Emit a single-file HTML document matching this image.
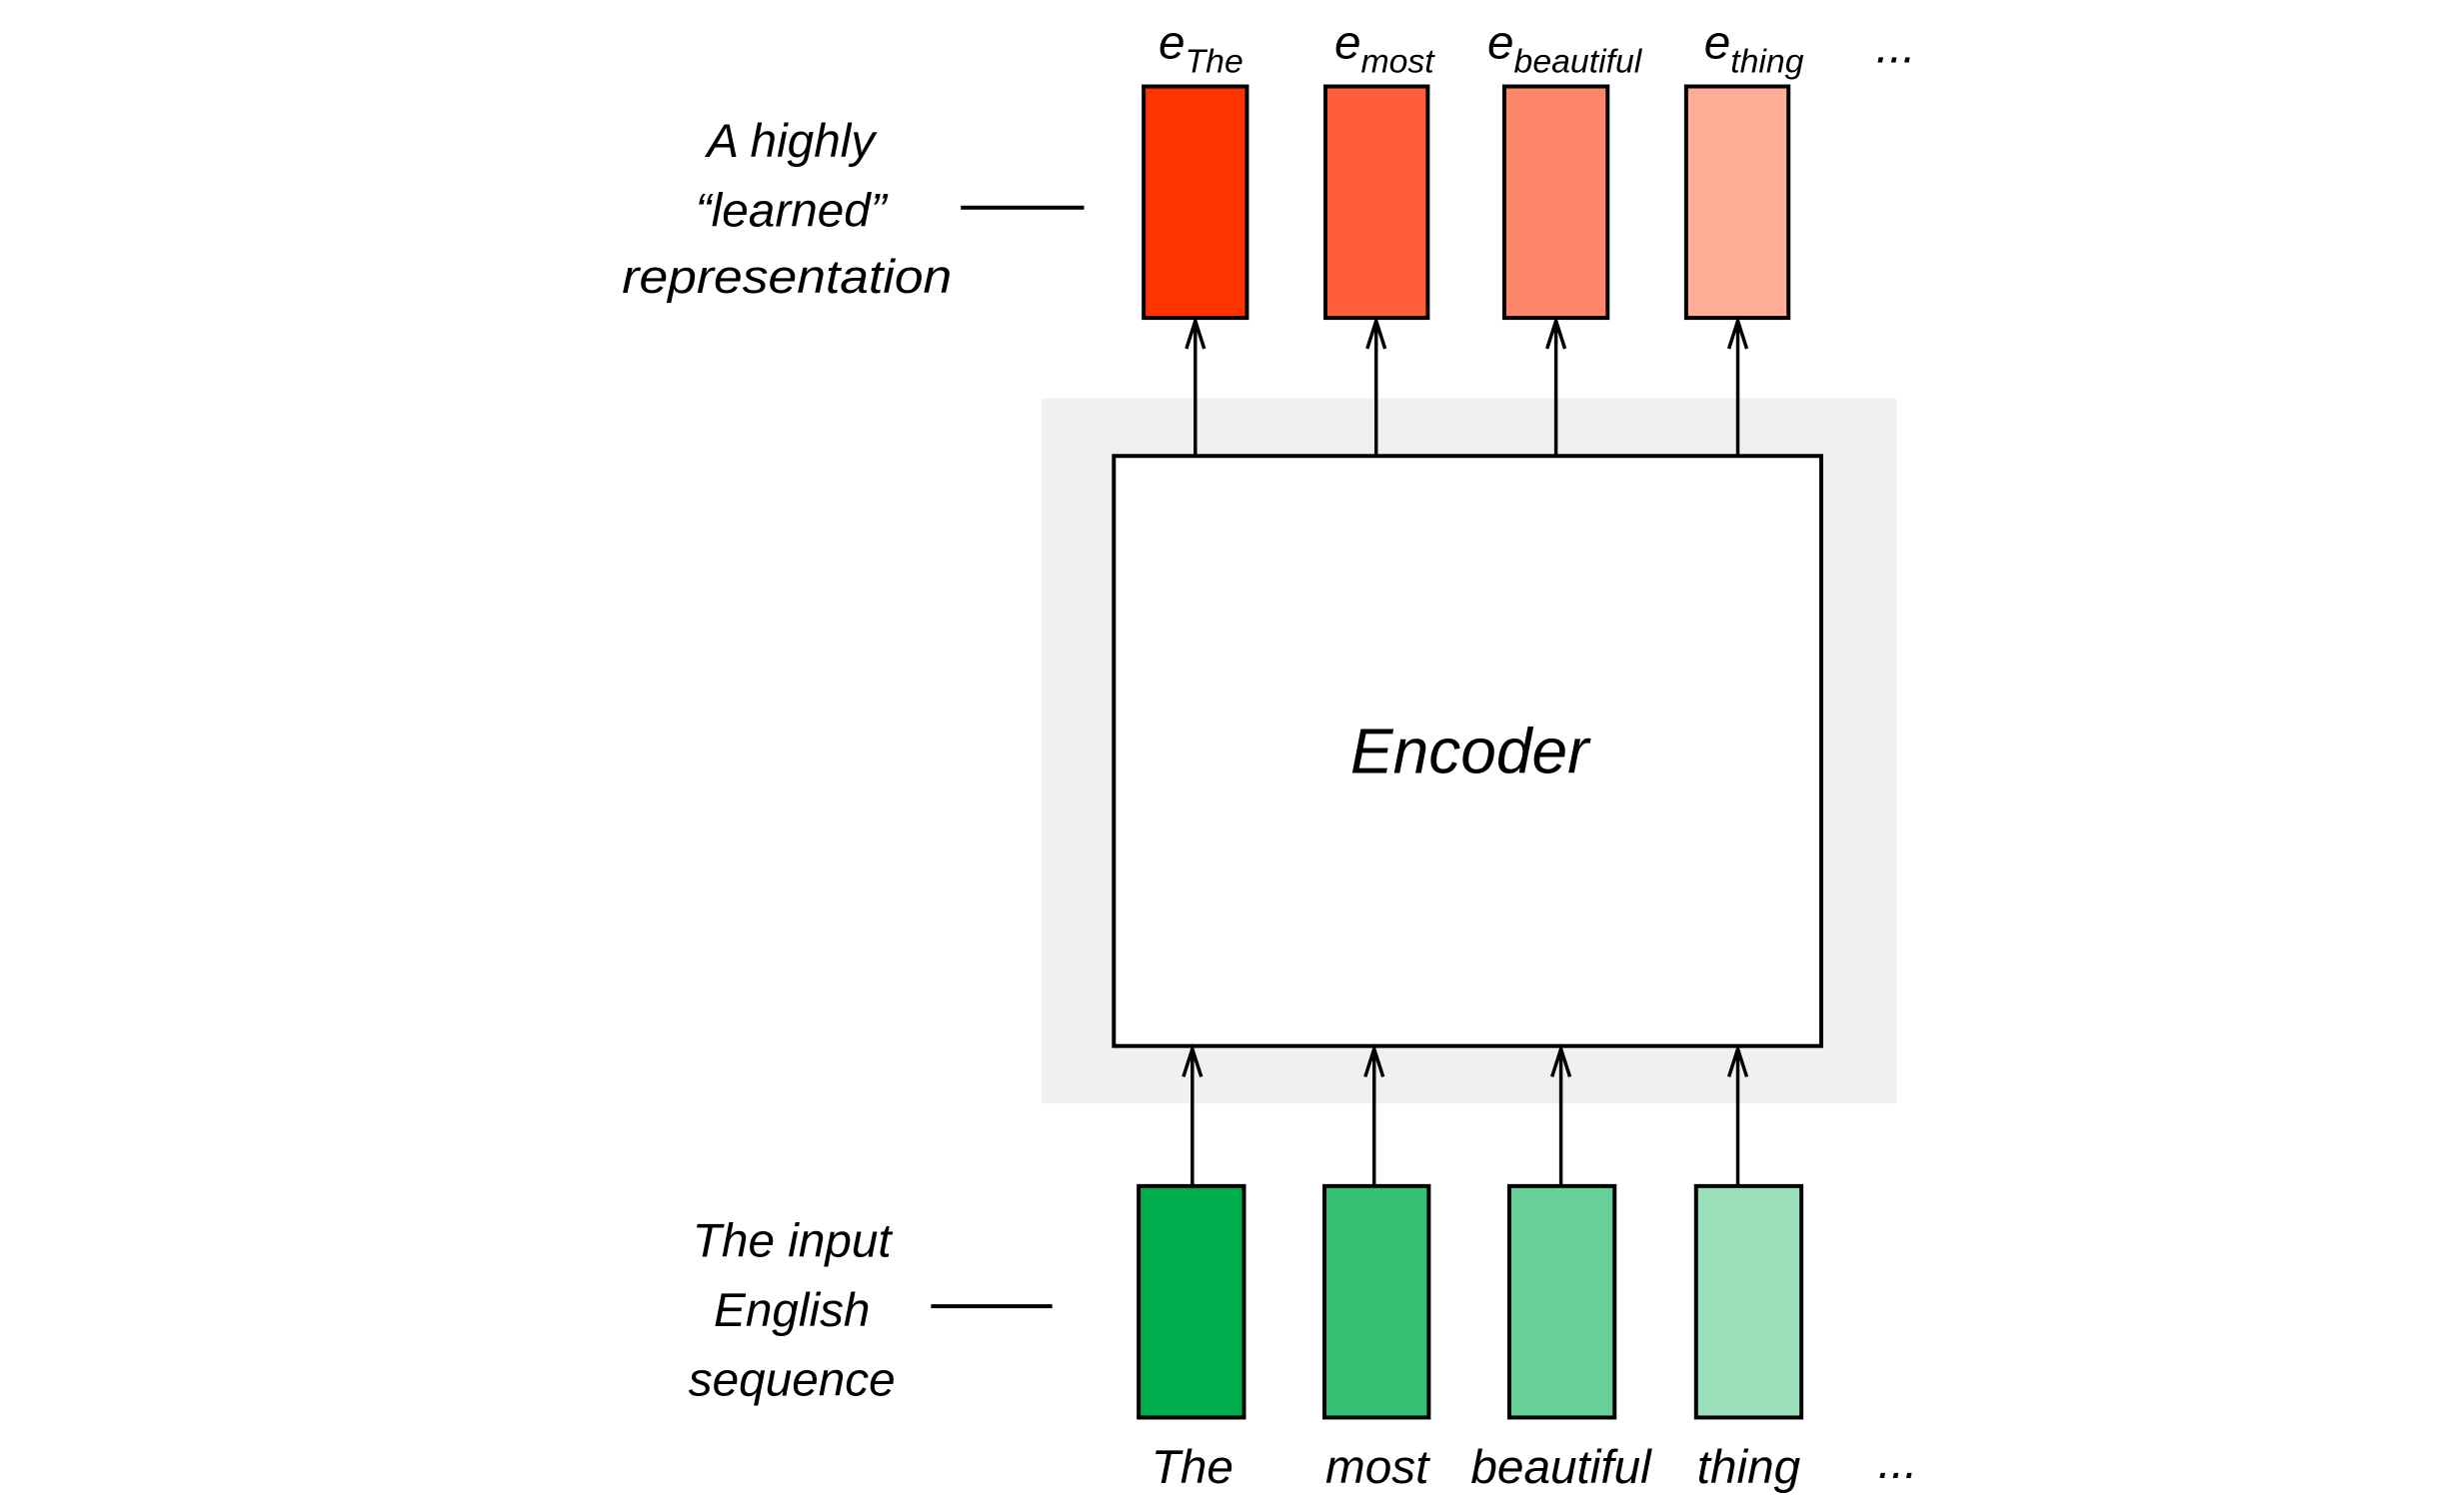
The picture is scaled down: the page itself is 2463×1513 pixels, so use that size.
<!DOCTYPE html>
<html><head><meta charset="utf-8"><style>html,body{margin:0;padding:0;background:#fff}svg{display:block}</style></head>
<body>
<svg width="2463" height="1513" viewBox="0 0 2463 1513" xmlns="http://www.w3.org/2000/svg" font-family="Liberation Sans, sans-serif" font-style="italic">
<g transform="translate(3,3) scale(0.994)">
<rect x="1045" y="398" width="861" height="710" fill="#f0f0f0"/>
<rect x="1118" y="456" width="712" height="594" fill="#fff" stroke="#000" stroke-width="4"/>
<text x="1476" y="775" font-size="64" text-anchor="middle" textLength="240" lengthAdjust="spacingAndGlyphs">Encoder</text>
<g stroke="#000" stroke-width="4">
<rect x="1148" y="84" width="104" height="233" fill="#FF3300"/>
<rect x="1331" y="84" width="103" height="233" fill="#FF5E3A"/>
<rect x="1511" y="84" width="104" height="233" fill="#FF8769"/>
<rect x="1694" y="84" width="103" height="233" fill="#FFAD97"/>
<rect x="1143" y="1191" width="106" height="233" fill="#00AE4E"/>
<rect x="1330" y="1191" width="105" height="233" fill="#35C073"/>
<rect x="1516" y="1191" width="106" height="233" fill="#67D097"/>
<rect x="1704" y="1191" width="106" height="233" fill="#9ADFB9"/>
</g>
<g stroke="#000" stroke-width="3.5" fill="none">
<path d="M1200 456V320M1191 348L1200 320L1209 348"/>
<path d="M1382 456V320M1373 348L1382 320L1391 348"/>
<path d="M1563 456V320M1554 348L1563 320L1572 348"/>
<path d="M1746 456V320M1737 348L1746 320L1755 348"/>
<path d="M1197 1191V1053M1188 1081L1197 1053L1206 1081"/>
<path d="M1380 1191V1053M1371 1081L1380 1053L1389 1081"/>
<path d="M1568 1191V1053M1559 1081L1568 1053L1577 1081"/>
<path d="M1746 1191V1053M1737 1081L1746 1053L1755 1081"/>
</g>
<g stroke="#000" stroke-width="4">
<line x1="964" y1="206" x2="1088" y2="206"/>
<line x1="934" y1="1312" x2="1056" y2="1312"/>
</g>
<g font-size="48" text-anchor="middle">
<text x="793" y="155">A highly</text>
<text x="793" y="225">“learned”</text>
<text x="789" y="292" textLength="332" lengthAdjust="spacingAndGlyphs">representation</text>
<text x="794" y="1262">The input</text>
<text x="794" y="1332">English</text>
<text x="794" y="1402">sequence</text>
<text x="1197" y="1490">The</text>
<text x="1383" y="1490">most</text>
<text x="1568" y="1490">beautiful</text>
<text x="1757" y="1490">thing</text>
<text x="1907" y="1485">...</text>
</g>
<g font-size="48">
<text x="1163" y="56">e<tspan font-size="34" dy="14">The</tspan></text>
<text x="1340" y="56">e<tspan font-size="34" dy="14">most</tspan></text>
<text x="1494" y="56">e<tspan font-size="34" dy="14">beautiful</tspan></text>
<text x="1712" y="56">e<tspan font-size="34" dy="14">thing</tspan></text>
<text x="1885" y="60">...</text>
</g>
</g>
</svg>
</body></html>
